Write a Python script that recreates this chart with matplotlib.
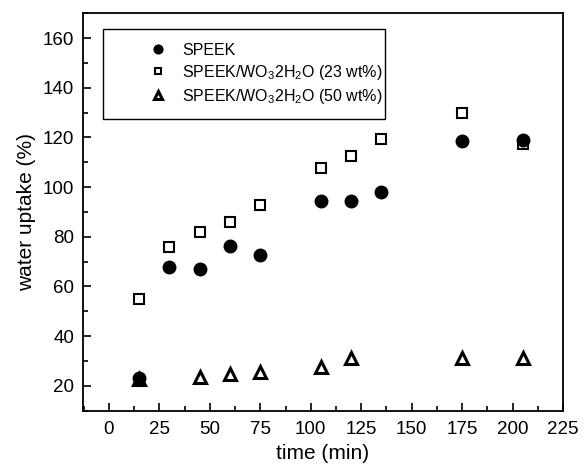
import matplotlib
matplotlib.use("Agg")
import matplotlib.pyplot as plt
from matplotlib.ticker import MultipleLocator
from matplotlib.patches import Rectangle

plt.rcParams['font.family'] = ['Liberation Sans', 'DejaVu Sans']
plt.rcParams['mathtext.fontset'] = 'custom'
plt.rcParams['mathtext.rm'] = 'Liberation Sans'
plt.rcParams['mathtext.it'] = 'Liberation Sans'

t_speek = [15, 30, 45, 60, 75, 105, 120, 135, 175, 205]
speek = [23, 67.7, 67.0, 76.1, 72.6, 94.5, 94.5, 98.1, 118.6, 118.8]

t_23 = [15, 30, 45, 60, 75, 105, 120, 135, 175, 205]
w23 = [54.9, 76.0, 81.8, 85.8, 92.7, 107.5, 112.6, 119.5, 130.0, 117.5]

t_50 = [15, 45, 60, 75, 105, 120, 175, 205]
w50 = [22.7, 23.4, 24.7, 25.4, 27.4, 31.4, 31.4, 31.4]

labels = ['SPEEK', r'SPEEK/WO$_3$2H$_2$O (23 wt%)', r'SPEEK/WO$_3$2H$_2$O (50 wt%)']

fig = plt.figure(figsize=(5.88, 4.66), dpi=100)
ax = fig.add_axes([0.1406, 0.1187, 0.817, 0.853])

ax.plot(t_speek, speek, 'o', ms=9, color='black', label=labels[0], zorder=3)
ax.plot(t_23, w23, 's', ms=7, mfc='white', mec='black', mew=1.5, label=labels[1], zorder=2)
ax.plot(t_50, w50, '^', ms=9, mfc='white', mec='black', mew=2.2, label=labels[2], zorder=2)

ax.set_xlim(-13, 225)
ax.set_ylim(10, 170)
ax.xaxis.set_major_locator(MultipleLocator(25))
ax.xaxis.set_minor_locator(MultipleLocator(12.5))
ax.yaxis.set_major_locator(MultipleLocator(20))
ax.yaxis.set_minor_locator(MultipleLocator(10))
ax.set_yticks(range(20, 161, 20))
ax.tick_params(which='both', direction='in', top=False, right=False, labelsize=13.5, width=1.2, pad=6)
ax.tick_params(axis='x', which='both', pad=7.5)
ax.tick_params(which='major', length=6)
ax.tick_params(which='minor', length=3.5)
for s in ax.spines.values():
    s.set_linewidth(1.3)

ax.set_xlabel('time (min)', fontsize=15, labelpad=4)
ax.set_ylabel('water uptake (%)', fontsize=15, labelpad=5)

# legend frame
ax.add_patch(Rectangle((0.0429, 0.7335), 0.629 - 0.0429, 0.959 - 0.7335,
                       transform=ax.transAxes, fill=False, edgecolor='black',
                       linewidth=1.0, zorder=5))
leg = ax.legend(loc='upper left', bbox_to_anchor=(0.140, 0.925), fontsize=11.5,
                frameon=False, handletextpad=1.0, handlelength=1.0,
                borderpad=0, labelspacing=0.3, borderaxespad=0, markerscale=0.7)

fig.savefig('out.png', dpi=100)
